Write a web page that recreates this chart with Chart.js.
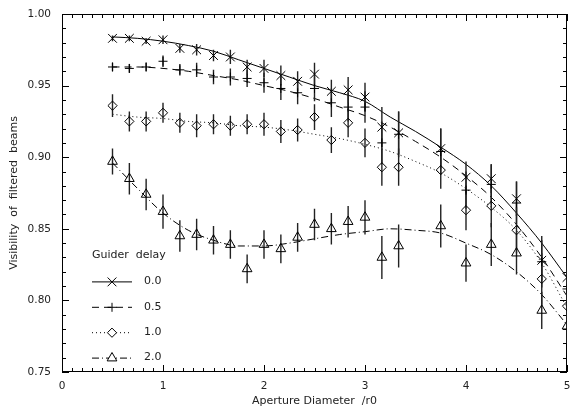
<!DOCTYPE html>
<html>
<head>
<meta charset="utf-8">
<script src="https://cdn.jsdelivr.net/npm/chart.js@4.4.1/dist/chart.umd.min.js"></script>
<style>
  html, body { margin: 0; padding: 0; background: #fff; }
  canvas { display: block; }
</style>
</head>
<body>
<canvas id="visChart" width="571" height="409"></canvas>
<script>
// measured points
let apertures = [0.5, 0.667, 0.833, 1.0, 1.167, 1.333, 1.5, 1.667, 1.833, 2.0, 2.167, 2.333,
                 2.5, 2.667, 2.833, 3.0, 3.167, 3.333, 3.75, 4.0, 4.25, 4.5, 4.75, 5.0];
let delayLabels = ["0.0", "0.5", "1.0", "2.0"];

let vis00 = [0.983, 0.983, 0.981, 0.982, 0.976, 0.975, 0.971, 0.970, 0.963, 0.962, 0.957, 0.953,
             0.958, 0.946, 0.947, 0.942, 0.921, 0.917, 0.906, 0.886, 0.885, 0.871, 0.828, 0.816];
let vis05 = [0.963, 0.962, 0.963, 0.967, 0.961, 0.961, 0.956, 0.956, 0.955, 0.952, 0.948, 0.945,
             0.948, 0.938, 0.935, 0.935, 0.910, 0.916, 0.904, 0.877, 0.881, 0.868, 0.827, 0.808];
let vis10 = [0.936, 0.925, 0.925, 0.931, 0.924, 0.922, 0.923, 0.922, 0.923, 0.923, 0.918, 0.919,
             0.928, 0.912, 0.924, 0.910, 0.893, 0.893, 0.891, 0.863, 0.866, 0.849, 0.815, 0.796];
let vis20 = [0.897, 0.885, 0.874, 0.862, 0.845, 0.846, 0.842, 0.839, 0.822, 0.839, 0.836, 0.844,
             0.853, 0.850, 0.855, 0.858, 0.830, 0.838, 0.852, 0.826, 0.839, 0.833, 0.793, 0.782];

let err00 = [0.002, 0.002, 0.002, 0.003, 0.003, 0.004, 0.004, 0.005, 0.005, 0.006, 0.007, 0.007,
             0.008, 0.008, 0.009, 0.010, 0.014, 0.015, 0.014, 0.011, 0.010, 0.012, 0.014, 0.012];
let err05 = [0.003, 0.003, 0.003, 0.004, 0.004, 0.005, 0.005, 0.006, 0.006, 0.007, 0.008, 0.008,
             0.009, 0.010, 0.010, 0.011, 0.015, 0.016, 0.016, 0.013, 0.014, 0.015, 0.018, 0.016];
let err10 = [0.008, 0.007, 0.007, 0.007, 0.007, 0.008, 0.007, 0.007, 0.007, 0.008, 0.008, 0.008,
             0.009, 0.009, 0.010, 0.010, 0.013, 0.013, 0.013, 0.014, 0.015, 0.016, 0.018, 0.016];
let err20 = [0.009, 0.011, 0.011, 0.012, 0.011, 0.011, 0.010, 0.010, 0.010, 0.010, 0.010, 0.010,
             0.011, 0.011, 0.011, 0.012, 0.015, 0.015, 0.015, 0.013, 0.015, 0.015, 0.013, 0.012];

// fitted curves
let fitX  = [0.5, 0.75, 1.0, 1.25, 1.5, 1.75, 2.0, 2.25, 2.5, 2.75, 3.0, 3.25, 3.5, 3.75, 4.0, 4.25, 4.5, 4.75, 5.0];
let fit00 = [0.984, 0.983, 0.981, 0.978, 0.974, 0.968, 0.962, 0.956, 0.950, 0.945, 0.939, 0.928, 0.918, 0.907, 0.895, 0.880, 0.861, 0.840, 0.816];
let fit05 = [0.963, 0.963, 0.962, 0.960, 0.957, 0.954, 0.950, 0.946, 0.941, 0.935, 0.929, 0.921, 0.911, 0.900, 0.887, 0.872, 0.853, 0.830, 0.803];
let fit10 = [0.930, 0.928, 0.927, 0.925, 0.924, 0.922, 0.921, 0.919, 0.916, 0.913, 0.909, 0.904, 0.897, 0.889, 0.878, 0.865, 0.849, 0.826, 0.795];
let fit20 = [0.896, 0.878, 0.861, 0.849, 0.842, 0.838, 0.838, 0.840, 0.843, 0.846, 0.848, 0.850, 0.849, 0.847, 0.840, 0.832, 0.820, 0.804, 0.783];

// styles (kept apart from the data)
let seriesStyle = [
    { point: "crossRot", radius: 6.2, dash: [] },
    { point: "cross",    radius: 4.5, dash: [7, 5] },
    { point: "rectRot",  radius: 4.6, dash: [1, 3] },
    { point: "triangle", radius: 5.6, dash: [7, 3, 1, 3] }
];

let visAll = [vis00, vis05, vis10, vis20];
let errAll = [err00, err05, err10, err20];
let fitAll = [fit00, fit05, fit10, fit20];

const FONT = "'DejaVu Sans', 'Liberation Sans', sans-serif";
const INK = "#000";
const TEXT = "#222";

function pairs(xs, ys) {
    return xs.map(function(x, i) { return { x: x, y: ys[i] }; });
}

function errorSegments(xs, ys, es) {
    let out = [];
    xs.forEach(function(x, i) {
        out.push({ x: x, y: ys[i] - es[i] });
        out.push({ x: x, y: ys[i] + es[i] });
        out.push({ x: x, y: null });
    });
    return out;
}

let datasets = [];

visAll.forEach(function(vals, k) {
    datasets.push({
        label: delayLabels[k],
        data: pairs(apertures, vals),
        showLine: false,
        pointStyle: seriesStyle[k].point,
        pointRadius: seriesStyle[k].radius,
        pointBorderWidth: 1,
        pointBorderColor: INK,
        pointBackgroundColor: "rgba(0,0,0,0)"
    });
});

errAll.forEach(function(errs, k) {
    datasets.push({
        label: "err " + delayLabels[k],
        data: errorSegments(apertures, visAll[k], errs),
        showLine: true,
        spanGaps: false,
        borderColor: "#222",
        borderWidth: 1.4,
        pointRadius: 0
    });
});

fitAll.forEach(function(fit, k) {
    datasets.push({
        label: "fit " + delayLabels[k],
        data: pairs(fitX, fit),
        showLine: true,
        borderColor: INK,
        borderWidth: 1,
        borderDash: seriesStyle[k].dash,
        cubicInterpolationMode: "monotone",
        pointRadius: 0
    });
});

// box around the plot with inward ticks on all four sides
const frameTicks = {
    id: "frameTicks",
    beforeDatasetsDraw(chart) {
        const ctx = chart.ctx;
        const a = chart.chartArea;
        const sx = chart.scales.x;
        const sy = chart.scales.y;
        ctx.save();
        ctx.strokeStyle = INK;
        ctx.lineWidth = 1;
        ctx.strokeRect(a.left + 0.5, a.top + 0.5, a.right - a.left - 1, a.bottom - a.top - 1);
        ctx.beginPath();
        for (let i = 0; i <= 50; i++) {
            let px = Math.round(sx.getPixelForValue(i / 10)) + 0.5;
            let len = (i % 10 === 0) ? 7 : 4;
            ctx.moveTo(px, a.bottom);
            ctx.lineTo(px, a.bottom - len);
            ctx.moveTo(px, a.top);
            ctx.lineTo(px, a.top + len);
        }
        for (let i = 0; i <= 25; i++) {
            let py = Math.round(sy.getPixelForValue(0.75 + i / 100)) + 0.5;
            let len = (i % 5 === 0) ? 7 : 4;
            ctx.moveTo(a.left, py);
            ctx.lineTo(a.left + len, py);
            ctx.moveTo(a.right, py);
            ctx.lineTo(a.right - len, py);
        }
        ctx.stroke();
        ctx.restore();
    }
};

// legend drawn inside the plot, lower left
const innerLegend = {
    id: "innerLegend",
    afterDraw(chart) {
        const ctx = chart.ctx;
        let x0 = 92, y0 = 255, rowGap = 25.4;
        ctx.save();
        ctx.fillStyle = TEXT;
        ctx.font = "11px " + FONT;
        ctx.textBaseline = "middle";
        ctx.textAlign = "left";
        ctx.fillText("Guider  delay", x0, y0);
        seriesStyle.forEach(function(st, k) {
            let y = y0 + rowGap * (k + 1) + 1;
            ctx.strokeStyle = INK;
            ctx.lineWidth = 1;
            ctx.setLineDash(st.dash);
            ctx.beginPath();
            ctx.moveTo(x0, y + 0.5);
            ctx.lineTo(x0 + 40, y + 0.5);
            ctx.stroke();
            ctx.setLineDash([]);
            ctx.fillStyle = "#fff";
            Chart.helpers.drawPoint(ctx, {
                pointStyle: st.point, radius: st.radius, rotation: 0, borderWidth: 1
            }, x0 + 20, y + 0.5);
            ctx.fillStyle = TEXT;
            ctx.fillText(delayLabels[k], x0 + 52, y);
        });
        ctx.restore();
    }
};

new Chart(document.getElementById("visChart"), {
    type: "scatter",
    data: { datasets: datasets },
    plugins: [frameTicks, innerLegend],
    options: {
        responsive: false,
        animation: false,
        events: [],
        layout: { autoPadding: false, padding: { top: 14, right: 4, left: 0, bottom: 0 } },
        plugins: {
            legend: { display: false },
            tooltip: { enabled: false }
        },
        scales: {
            x: {
                type: "linear",
                min: 0,
                max: 5,
                grid: { display: false, drawTicks: false },
                border: { display: false },
                ticks: {
                    stepSize: 1,
                    padding: 8,
                    color: TEXT,
                    font: { family: FONT, size: 10.5 },
                    maxRotation: 0,
                    callback: function(v) { return String(v); }
                },
                title: {
                    display: true,
                    text: "Aperture Diameter  /r0",
                    color: TEXT,
                    font: { family: FONT, size: 11 },
                    padding: { top: 0, bottom: 1 }
                },
                afterFit: function(scale) {
                    scale.height = 37;
                    scale.paddingLeft = 0;
                    scale.paddingRight = 0;
                }
            },
            y: {
                type: "linear",
                min: 0.75,
                max: 1.0,
                grid: { display: false, drawTicks: false },
                border: { display: false },
                ticks: {
                    stepSize: 0.05,
                    padding: 11,
                    color: TEXT,
                    font: { family: FONT, size: 10.5 },
                    callback: function(v) { return v.toFixed(2); }
                },
                title: {
                    display: true,
                    text: "Visibility  of  filtered  beams",
                    color: TEXT,
                    font: { family: FONT, size: 11 },
                    padding: { top: 8, bottom: 0 }
                },
                afterFit: function(scale) {
                    scale.width = 62;
                    scale.paddingTop = 0;
                    scale.paddingBottom = 0;
                }
            }
        }
    }
});
</script>
</body>
</html>
